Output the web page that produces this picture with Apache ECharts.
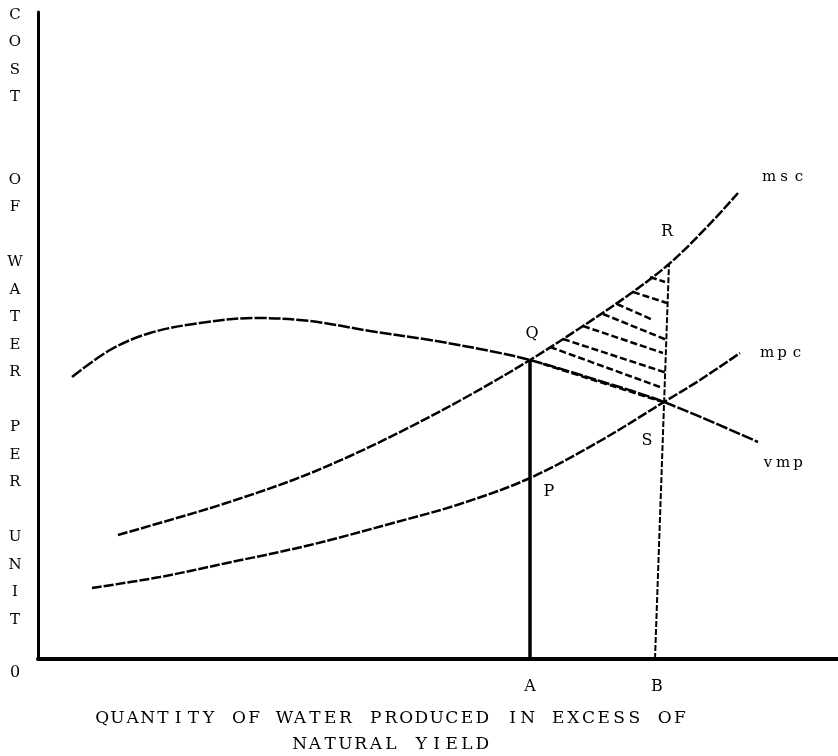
<!DOCTYPE html>
<html><head><meta charset="utf-8">
<script src="https://cdn.jsdelivr.net/npm/echarts@6/dist/echarts.min.js"></script>
<style>html,body{margin:0;padding:0;background:#fff}#c{width:838px;height:756px}</style>
</head><body><div id="c"></div>
<script>
// ---- data (x: quantity, y: cost per unit, arbitrary units) ----
const xMax = 800, yMax = 647;
const vmpPoints = [[34,282],[72,309],[112,326],[162,336],[217,341],[272,338],[332,328],[392,319],[452,308],[492,299],[562,278],[626,257],[720,217]];
const mscPoints = [[80,124],[132,139],[182,154],[255,179],[312,203],[372,232],[432,264],[492,299],[542,331],[592,365],[631,395],[669,432],[700,466]];
const mpcPoints = [[54,71],[122,82],[189,96],[272,114],[355,136],[422,155],[492,181],[562,218],[626,257],[662,279],[702,306]];
const lineA = [[492,0],[492,299]];
const lineB = [[617,0],[631,395]];
const hatchSegments = [
  [[612,382],[627,377]],
  [[595,367],[629,356]],
  [[579,355],[615,339]],
  [[565,345],[629,319]],
  [[545,333],[625,306]],
  [[525,320],[629,286]],
  [[512,312],[622,272]],
  [[505,295],[625,257]]
];
const xTickValues = [492, 619];
const xTickNames = ['A', 'B'];
const curveNames = ['msc', 'mpc', 'vmp'];
const pointNames = ['Q', 'R', 'S', 'P'];
const yTitleChars = ['C','O','S','T','','','O','F','','W','A','T','E','R','','P','E','R','','U','N','I','T'];
const xTitleLines = ['QUANTITY OF WATER PRODUCED IN EXCESS OF', 'NATURAL YIELD'];
const originName = '0';

// label anchor positions (data coords) - layout only
const curveLabelAt = {msc:[746,482], mpc:[744,306], vmp:[745,196]};
const pointLabelAt = {Q:[494,325], R:[629,427], S:[609,218], P:[511,167]};

const FONT = "'DejaVu Serif', serif";
function spaced(str){
  return str.split('').map(c => c === ' ' ? '{s|\u00a0}' : '{c|' + c + '}').join('');
}
function richFor(w, size){
  return {
    c:{width:w, align:'center', fontFamily:FONT, fontSize:size, color:'#000'},
    s:{width:w, fontFamily:FONT, fontSize:size}
  };
}

const chart = echarts.init(document.getElementById('c'), null, {renderer:'canvas'});
const dashCurve = {color:'#000', width:2.5, type:[10,2]};
const series = [
  {type:'line', data:vmpPoints, smooth:0.35, symbol:'none', lineStyle:{color:'#000', width:2.5, type:[12,2]}},
  {type:'line', data:mscPoints, smooth:0.35, symbol:'none', lineStyle:dashCurve},
  {type:'line', data:mpcPoints, smooth:0.35, symbol:'none', lineStyle:dashCurve},
  {type:'line', data:lineA, symbol:'none', lineStyle:{color:'#000', width:3.5}},
  {type:'line', data:lineB, symbol:'none', lineStyle:{color:'#000', width:2, type:[6,2]}}
];
hatchSegments.forEach(seg => series.push({type:'line', data:seg, symbol:'none', lineStyle:{color:'#000', width:2.5, type:[7,3]}}));
series.forEach(s => { s.silent = true; s.animation = false; });

chart.setOption({
  animation:false,
  backgroundColor:'#fff',
  grid:{left:38, right:0, top:12, bottom:97},
  xAxis:{type:'value', min:0, max:xMax, splitLine:{show:false},
    axisLine:{lineStyle:{color:'#000', width:4}}, axisTick:{show:false},
    axisLabel:{customValues:xTickValues, margin:20, color:'#000', fontFamily:FONT, fontSize:16,
      formatter:(v) => xTickNames[xTickValues.indexOf(v)] || ''}},
  yAxis:{type:'value', min:0, max:yMax, splitLine:{show:false},
    axisLine:{show:true, lineStyle:{color:'#000', width:3}}, axisTick:{show:false}, axisLabel:{show:false}},
  series:series
});

const graphics = [];
function addText(text, px, py, w, size){
  graphics.push({type:'text', x:px, y:py, silent:true,
    style:{text:spaced(text), rich:richFor(w, size), align:'center', verticalAlign:'middle', fill:'#000'}});
}
curveNames.forEach(n => { const p = chart.convertToPixel({gridIndex:0}, curveLabelAt[n]); addText(n, p[0], p[1], 15, 15); });
pointNames.forEach(n => { const p = chart.convertToPixel({gridIndex:0}, pointLabelAt[n]); addText(n, p[0], p[1], 15, 16); });
// y-axis title, stacked letters
graphics.push({type:'text', x:15, y:1, silent:true,
  style:{text:yTitleChars.join('\n'), font:'15px ' + FONT, fill:'#000', align:'center', verticalAlign:'top', lineHeight:27.5}});
// origin
graphics.push({type:'text', x:15, y:673, silent:true,
  style:{text:originName, font:'16px ' + FONT, fill:'#000', align:'center', verticalAlign:'middle'}});
// x-axis title
addText(xTitleLines[0], 391, 719, 15.2, 17);
addText(xTitleLines[1], 391, 745, 15.2, 17);
chart.setOption({graphic:graphics});
</script></body></html>
